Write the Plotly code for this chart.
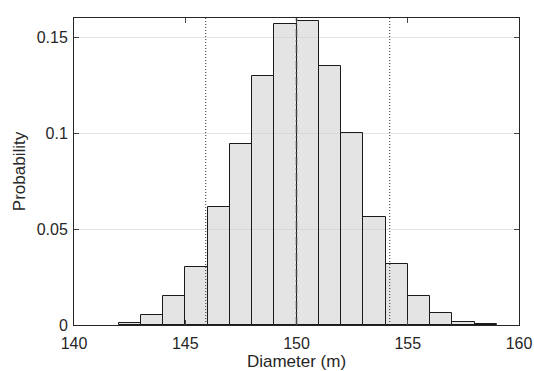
import plotly.graph_objects as go

bin_left = [142, 143, 144, 145, 146, 147, 148, 149, 150, 151, 152, 153, 154, 155, 156, 157, 158]
probability = [0.0009, 0.0054, 0.0150, 0.0304, 0.0617, 0.0943, 0.1298, 0.1570, 0.1583,
               0.1350, 0.1002, 0.0565, 0.0320, 0.0151, 0.0064, 0.0014, 0.0007]
bin_width = 1.0
bounds = [145.92, 154.19]
mean_value = [150.0]
x_ticks = [140, 145, 150, 155, 160]
y_ticks = [0, 0.05, 0.1, 0.15]
y_tick_text = ["0", "0.05", "0.1", "0.15"]

centers = [b + bin_width / 2 for b in bin_left]

fig = go.Figure()
fig.add_trace(go.Bar(
    x=centers, y=probability, width=[bin_width] * len(centers),
    marker=dict(color="rgba(205,205,205,0.55)", line=dict(color="#1a1a1a", width=1)),
    showlegend=False, hoverinfo="skip",
))

for b in bounds:
    fig.add_trace(go.Scatter(x=[b, b], y=[0, 0.16], mode="lines",
                             line=dict(color="#333333", width=1, dash="1px,2px"),
                             showlegend=False, hoverinfo="skip"))
for m in mean_value:
    fig.add_trace(go.Scatter(x=[m, m], y=[0, 0.16], mode="lines",
                             line=dict(color="#444444", width=1.5, dash="8px,3px,2px,3px"),
                             showlegend=False, hoverinfo="skip"))

font_family = "Liberation Sans, Arial, sans-serif"
fig.update_layout(
    width=534, height=371,
    margin=dict(l=74, r=15, t=18, b=46),
    paper_bgcolor="white", plot_bgcolor="white",
    font=dict(family=font_family, size=16, color="#262626"),
    bargap=0,
    xaxis=dict(range=[140, 160], tickvals=x_ticks, ticks="inside", ticklen=5,
               showline=True, linecolor="#262626", linewidth=1, mirror="ticks",
               showgrid=False, zeroline=False, ticklabelstandoff=4, automargin=False,
               title=dict(text="Diameter (m)", standoff=0, font=dict(size=17)),
               tickfont=dict(size=16)),
    yaxis=dict(range=[0, 0.16], tickvals=y_ticks, ticktext=y_tick_text,
               ticks="inside", ticklen=5, automargin=False,
               showline=True, linecolor="#262626", linewidth=1, mirror="ticks",
               showgrid=True, gridcolor="#e3e3e3", gridwidth=1, zeroline=False,
               ticklabelstandoff=2,
               title=dict(text="Probability", standoff=6, font=dict(size=17)),
               tickfont=dict(size=16)),
)

fig.write_html("out.html")
